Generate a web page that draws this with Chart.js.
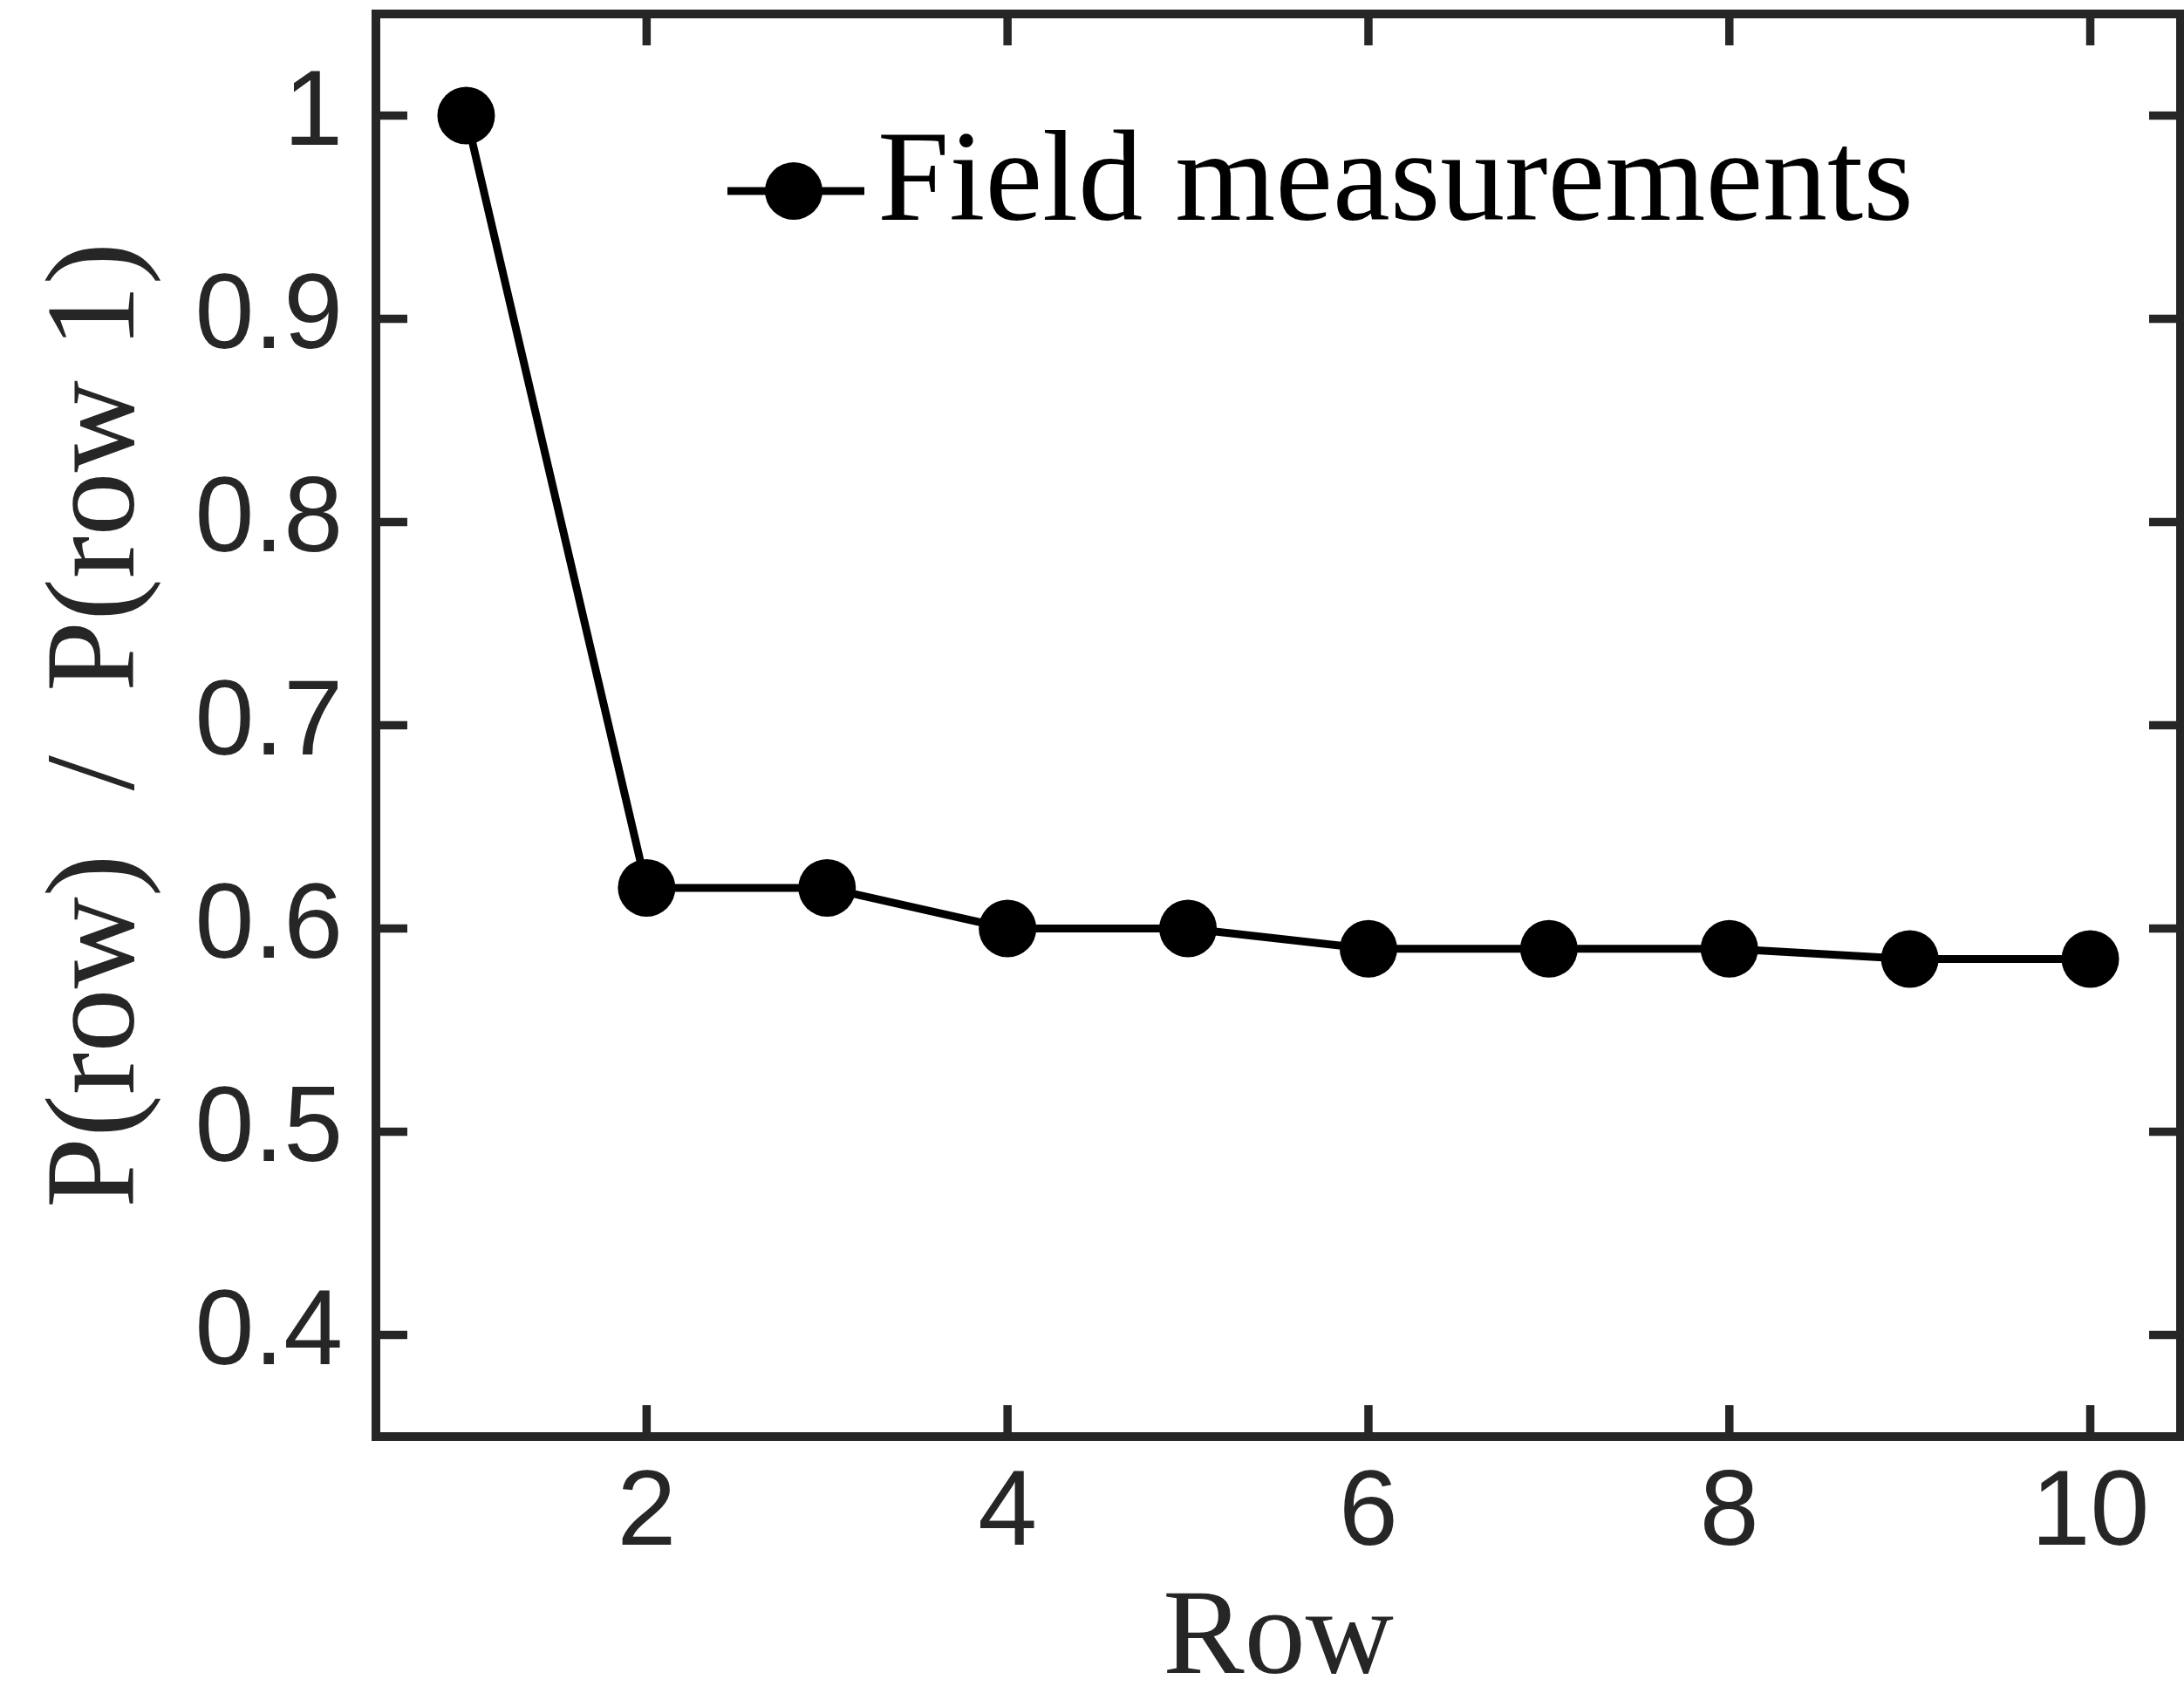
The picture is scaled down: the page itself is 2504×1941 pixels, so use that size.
<!DOCTYPE html>
<html>
<head>
<meta charset="utf-8">
<title>P(row) / P(row 1)</title>
<script src="https://cdn.jsdelivr.net/npm/chart.js@4.4.1/dist/chart.umd.min.js"></script>
<style>
  html, body { margin: 0; padding: 0; background: #ffffff; }
  #wrap { width: 2504px; height: 1941px; }
</style>
</head>
<body>
<div id="wrap"><canvas id="myChart" width="2504" height="1941"></canvas></div>
<script>
// data
const rows = [1, 2, 3, 4, 5, 6, 7, 8, 9, 10];
const ratio = [1.0, 0.62, 0.62, 0.60, 0.60, 0.59, 0.59, 0.59, 0.585, 0.585];
const xTickValues = [2, 4, 6, 8, 10];
const yTickValues = [0.4, 0.5, 0.6, 0.7, 0.8, 0.9, 1];
const seriesName = "Field measurements";
const xTitle = "Row";
const yTitle = "P(row)  /  P(row 1)";

const axisColor = "#262626";
const sansFont = "'Liberation Sans', Arial, Helvetica, sans-serif";
const serifFont = "'Liberation Serif', 'Times New Roman', serif";

// MATLAB style box with inward ticks on all four sides
const boxPlugin = {
  id: "boxPlugin",
  afterDraw(chart) {
    const ctx = chart.ctx;
    const a = chart.chartArea;
    const xs = chart.scales.x;
    const ys = chart.scales.y;
    const tl = 36;
    ctx.save();
    ctx.strokeStyle = axisColor;
    ctx.lineWidth = 9.5;
    ctx.lineCap = "butt";
    ctx.beginPath();
    xTickValues.forEach(function (v) {
      let px = xs.getPixelForValue(v);
      ctx.moveTo(px, a.bottom); ctx.lineTo(px, a.bottom - tl);
      ctx.moveTo(px, a.top); ctx.lineTo(px, a.top + tl);
    });
    yTickValues.forEach(function (v) {
      let py = ys.getPixelForValue(v);
      ctx.moveTo(a.left, py); ctx.lineTo(a.left + tl, py);
      ctx.moveTo(a.right, py); ctx.lineTo(a.right - tl, py);
    });
    ctx.stroke();
    ctx.lineWidth = 10;
    ctx.lineJoin = "miter";
    ctx.strokeRect(a.left, a.top, a.right - a.left, a.bottom - a.top);
    ctx.restore();
  }
};

// legend drawn inside the axes, like the original
const legendPlugin = {
  id: "insideLegend",
  afterDraw(chart) {
    const ctx = chart.ctx;
    const ds = chart.data.datasets[0];
    const y = 219;
    ctx.save();
    ctx.strokeStyle = ds.borderColor;
    ctx.lineWidth = ds.borderWidth;
    ctx.beginPath();
    ctx.moveTo(834, y);
    ctx.lineTo(991, y);
    ctx.stroke();
    ctx.fillStyle = ds.pointBackgroundColor;
    ctx.beginPath();
    ctx.arc(910, y, ds.pointRadius, 0, Math.PI * 2);
    ctx.fill();
    ctx.fillStyle = "#000000";
    ctx.font = "148px " + serifFont;
    ctx.textAlign = "left";
    ctx.textBaseline = "alphabetic";
    ctx.fillText(ds.label, 1006, 252);
    ctx.restore();
  }
};

new Chart("myChart", {
  type: "line",
  data: {
    datasets: [{
      label: seriesName,
      data: rows.map(function (r, i) { return { x: r, y: ratio[i] }; }),
      borderColor: "#000000",
      borderWidth: 9,
      pointStyle: "circle",
      pointRadius: 33,
      pointBackgroundColor: "#000000",
      pointBorderColor: "#000000",
      pointBorderWidth: 0,
      fill: false,
      tension: 0
    }]
  },
  options: {
    responsive: false,
    animation: false,
    devicePixelRatio: 1,
    layout: { autoPadding: false, padding: { left: 0, right: 4, top: 16, bottom: 0 } },
    plugins: {
      legend: { display: false },
      tooltip: { enabled: false }
    },
    scales: {
      x: {
        type: "linear",
        min: 0.5,
        max: 10.5,
        grid: { display: false, drawTicks: false },
        border: { display: false },
        afterBuildTicks: function (scale) {
          scale.ticks = xTickValues.map(function (v) { return { value: v }; });
        },
        afterFit: function (scale) {
          scale.height = 294;
          scale.paddingLeft = 0;
          scale.paddingRight = 0;
        },
        ticks: {
          autoSkip: false,
          maxRotation: 0,
          padding: 17,
          color: axisColor,
          font: { family: sansFont, size: 122, lineHeight: 1.2 },
          callback: function (v) { return String(v); }
        },
        title: {
          display: true,
          text: xTitle,
          color: axisColor,
          font: { family: serifFont, size: 140, lineHeight: 1 },
          padding: { top: 0, bottom: -10 }
        }
      },
      y: {
        type: "linear",
        min: 0.35,
        max: 1.05,
        grid: { display: false, drawTicks: false },
        border: { display: false },
        afterBuildTicks: function (scale) {
          scale.ticks = yTickValues.map(function (v) { return { value: v }; });
        },
        afterFit: function (scale) {
          scale.width = 431;
          scale.paddingTop = 0;
          scale.paddingBottom = 0;
        },
        ticks: {
          autoSkip: false,
          padding: 38,
          color: axisColor,
          font: { family: sansFont, size: 122, lineHeight: 1.2 },
          callback: function (v) { return String(v); }
        },
        title: {
          display: true,
          text: yTitle,
          color: axisColor,
          font: { family: serifFont, size: 146, lineHeight: 1 },
          padding: { top: 42, bottom: 0 }
        }
      }
    }
  },
  plugins: [boxPlugin, legendPlugin]
});
</script>
</body>
</html>
